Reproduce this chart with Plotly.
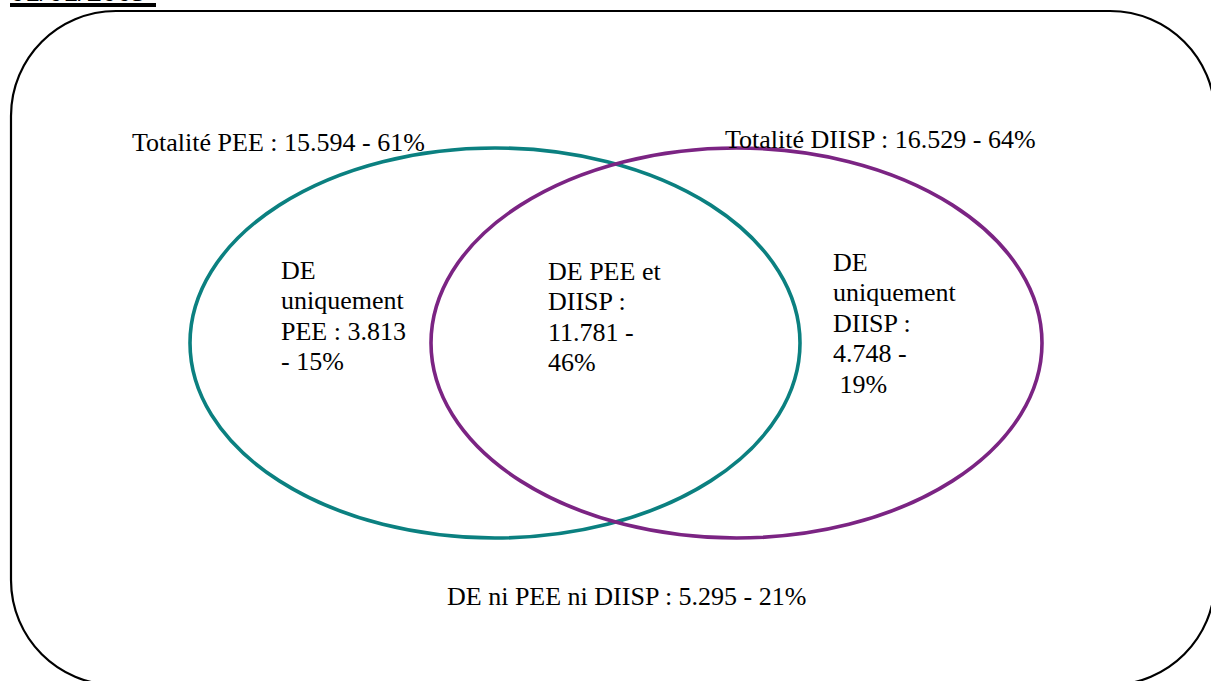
import plotly.graph_objects as go

# ---- data ----
date_label = "01/01/2009"
set_names = ["PEE", "DIISP"]
totals = ["15.594", "16.529"]
total_pcts = ["61%", "64%"]
region_names = ["uniquement PEE", "PEE et DIISP", "uniquement DIISP", "ni PEE ni DIISP"]
region_counts = ["3.813", "11.781", "4.748", "5.295"]
region_pcts = ["15%", "46%", "19%", "21%"]

W, H = 1211, 681
TEAL = "#0B8080"
PURPLE = "#7B2483"
FONT = "Liberation Serif"
FS = 26
LINE = 30.5

fig = go.Figure()
fig.add_trace(go.Scatter(x=[0], y=[0], mode="markers", marker=dict(opacity=0), showlegend=False, hoverinfo="skip"))

shapes = []
# rounded rectangle border
x0, y0, x1, y1, r = 11, 11, 1215, 685, 105
k = 0.5523 * r
path = (f"M {x0+r},{y0} L {x1-r},{y0} C {x1-r+k},{y0} {x1},{y0+r-k} {x1},{y0+r} "
        f"L {x1},{y1-r} C {x1},{y1-r+k} {x1-r+k},{y1} {x1-r},{y1} "
        f"L {x0+r},{y1} C {x0+r-k},{y1} {x0},{y1-r+k} {x0},{y1-r} "
        f"L {x0},{y0+r} C {x0},{y0+r-k} {x0+r-k},{y0} {x0+r},{y0} Z")
shapes.append(dict(type="path", path=path, line=dict(color="black", width=2.2), layer="below"))
# date underline
shapes.append(dict(type="line", x0=10, x1=156, y0=5, y1=5, line=dict(color="black", width=4)))
# ellipses
shapes.append(dict(type="circle", x0=190, x1=800, y0=148, y1=538, line=dict(color=TEAL, width=3.6)))
shapes.append(dict(type="circle", x0=431, x1=1042, y0=148, y1=538, line=dict(color=PURPLE, width=3.6)))

ann = []
def add(text, x, y, xanchor="left", yanchor="middle", size=FS, bold=False):
    if bold:
        text = f"<b>{text}</b>"
    ann.append(dict(text=text, x=x, y=y, xref="x", yref="y", showarrow=False,
                    xanchor=xanchor, yanchor=yanchor, align="left",
                    font=dict(family=FONT, size=size, color="black")))

def add_block(lines, x, y_first):
    for i, ln in enumerate(lines):
        add(ln, x, y_first + i * LINE)

add(date_label, 8, 9, yanchor="bottom", size=30, bold=True)
add(f"Totalité {set_names[0]} : {totals[0]} - {total_pcts[0]}", 130, 142)
add(f"Totalité {set_names[1]} : {totals[1]} - {total_pcts[1]}", 723, 139)
add_block(["DE", "uniquement", f"{set_names[0]} : {region_counts[0]}", f"- {region_pcts[0]}"], 279, 270)
add_block([f"DE {set_names[0]} et", f"{set_names[1]} :", f"{region_counts[1]} -", region_pcts[1]], 546, 271)
add_block(["DE", "uniquement", f"{set_names[1]} :", f"{region_counts[2]} -", f"\u00a0{region_pcts[2]}"], 831, 262)
add(f"DE ni {set_names[0]} ni {set_names[1]} : {region_counts[3]} - {region_pcts[3]}", 626, 596, xanchor="center")

fig.update_layout(
    width=W, height=H, margin=dict(l=0, r=0, t=0, b=0),
    paper_bgcolor="white", plot_bgcolor="white",
    xaxis=dict(range=[0, W], visible=False, fixedrange=True),
    yaxis=dict(range=[H, 0], visible=False, fixedrange=True),
    shapes=shapes, annotations=ann, showlegend=False,
)
fig.write_html("out.html", config=dict(displayModeBar=False),
               post_script="document.body.style.margin='0';document.body.style.overflow='hidden';")
